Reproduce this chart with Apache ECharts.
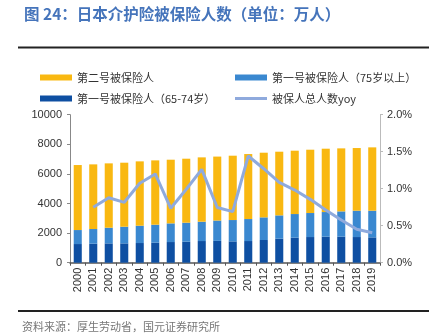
<!DOCTYPE html>
<html><head><meta charset="utf-8">
<script src="https://cdn.jsdelivr.net/npm/echarts@6/dist/echarts.min.js"></script>
<style>html,body{margin:0;padding:0;background:#fff}#c{width:429px;height:334px}</style>
</head><body><div id="c"></div>
<script>
const years = ['2000','2001','2002','2003','2004','2005','2006','2007','2008','2009','2010','2011','2012','2013','2014','2015','2016','2017','2018','2019'];
// 第一号被保险人（65-74岁）
const s6574 = [1261,1284,1306,1306,1329,1351,1396,1419,1464,1475,1441,1464,1532,1622,1689,1734,1757,1757,1734,1712];
// totals (for deriving segments)
const firstTotal = [2207,2275,2365,2432,2500,2568,2658,2703,2770,2850,2883,2950,3063,3198,3288,3356,3423,3468,3514,3514];
const allTotal = [6599,6644,6712,6757,6847,6914,6959,7027,7117,7170,7230,7342,7432,7500,7568,7635,7703,7725,7748,7793];
// 第一号被保险人（75岁以上）
const s75 = firstTotal.map((v,i)=>v - s6574[i]);
// 第二号被保险人
const s2 = allTotal.map((v,i)=>v - firstTotal[i]);
// 被保人总人数yoy (%)
const yoy = [null,0.749,0.878,0.816,1.073,1.199,0.735,0.992,1.262,0.746,0.69,1.442,1.27,1.086,0.982,0.856,0.712,0.577,0.451,0.405];

const chart = echarts.init(document.getElementById('c'), null, {renderer:'canvas'});
const ff = '"Liberation Sans", Arial, "Noto Sans CJK SC", sans-serif';
const lt = {fontSize:11, color:'#333', fontFamily:'"Noto Sans CJK SC", sans-serif'};
chart.setOption({
  animation:false,
  textStyle:{fontFamily:ff},
  title:[
    {text:'图 24：日本介护险被保险人数（单位：万人）', left:19, top:1, textStyle:{fontSize:15.5, fontWeight:'bold', color:'#4574BB', fontFamily:'"Noto Sans CJK SC", sans-serif'}},
    {text:'资料来源：厚生劳动省，国元证券研究所', left:17, top:316, textStyle:{fontSize:11, fontWeight:'normal', color:'#777', fontFamily:'"Noto Sans CJK SC", sans-serif'}}
  ],
  graphic:[
    {type:'line', shape:{x1:18,y1:47.5,x2:429,y2:47.5}, style:{stroke:'#222', lineWidth:2}},
    {type:'line', shape:{x1:18,y1:311,x2:429,y2:311}, style:{stroke:'#222', lineWidth:2}}
  ],
  legend:[
    {data:['第二号被保险人'], left:35, top:67, itemWidth:32, itemHeight:6, textStyle:lt, icon:'rect'},
    {data:['第一号被保险人（75岁以上）'], left:230, top:67, itemWidth:32, itemHeight:6, textStyle:lt, icon:'rect'},
    {data:['第一号被保险人（65-74岁）'], left:35, top:88, itemWidth:32, itemHeight:6, textStyle:lt, icon:'rect'},
    {data:['被保人总人数yoy'], left:230, top:88, itemWidth:32, itemHeight:3, textStyle:lt, icon:'rect'}
  ],
  grid:{left:70, right:49, top:114.7, bottom:71.3, containLabel:false},
  xAxis:{type:'category', data:years,
    axisLine:{lineStyle:{color:'#555', width:1.5}},
    axisTick:{show:true, alignWithLabel:false, length:3, lineStyle:{color:'#555'}},
    axisLabel:{rotate:90, fontSize:11, color:'#333', margin:5, fontFamily:ff}},
  yAxis:[
    {type:'value', min:0, max:10000, interval:2000,
      axisLine:{show:true, lineStyle:{color:'#888'}},
      axisTick:{show:true, length:3, lineStyle:{color:'#888'}},
      splitLine:{show:false},
      axisLabel:{fontSize:11, color:'#333', margin:8, fontFamily:ff, formatter:v=>String(v)}},
    {type:'value', min:0, max:2.0, interval:0.5, position:'right',
      axisLine:{show:true, lineStyle:{color:'#bbb'}},
      axisTick:{show:true, length:3, lineStyle:{color:'#bbb'}},
      splitLine:{show:false},
      axisLabel:{fontSize:11, color:'#333', margin:7, fontFamily:ff, formatter:v=>v.toFixed(1)+'%'}}
  ],
  series:[
    {name:'第一号被保险人（65-74岁）', type:'bar', stack:'a', data:s6574, barWidth:'52%', itemStyle:{color:'#0E4FA2'}},
    {name:'第一号被保险人（75岁以上）', type:'bar', stack:'a', data:s75, itemStyle:{color:'#3A88D0'}},
    {name:'第二号被保险人', type:'bar', stack:'a', data:s2, itemStyle:{color:'#F9B811'}},
    {name:'被保人总人数yoy', type:'line', yAxisIndex:1, data:yoy, showSymbol:false, symbol:'none',
      lineStyle:{color:'#8FAADD', width:3}, itemStyle:{color:'#8FAADD'}}
  ]
});
</script></body></html>
